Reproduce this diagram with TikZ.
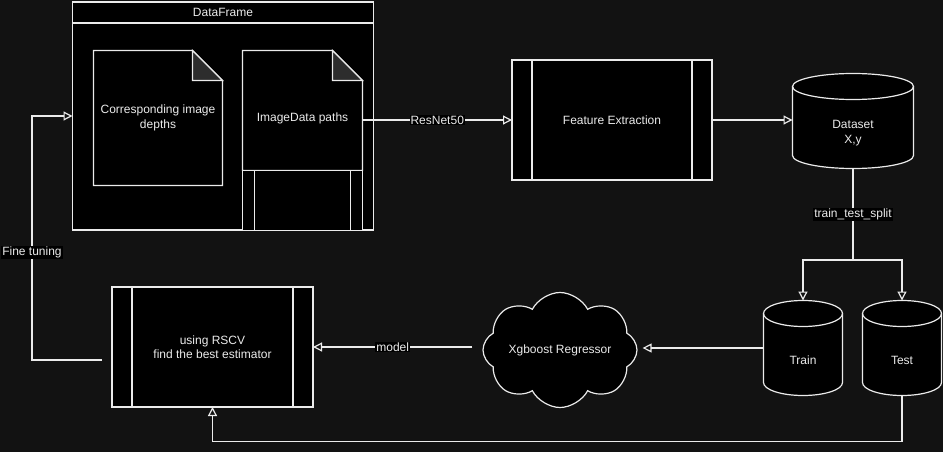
\documentclass[tikz,border=0pt]{standalone}
\usepackage{fontspec}
\setmainfont{Liberation Sans}
\usetikzlibrary{arrows.meta,shapes.symbols}
\definecolor{bg}{RGB}{18,18,18}
\definecolor{ln}{RGB}{235,235,235}
\definecolor{fold}{RGB}{45,45,45}
\newcommand\mycyl[5]{%
 \pgfmathsetmacro\cxa{(#1+#3)/2}\pgfmathsetmacro\rxa{(#3-#1)/2}%
 \pgfmathsetmacro\ka{0.5523*\rxa}\pgfmathsetmacro\kb{0.5523*#5}%
 \pgfmathsetmacro\yt{#2+#5}\pgfmathsetmacro\yb{#4-#5}\pgfmathsetmacro\yc{#2+2*#5}%
 \path[shp] (#1,\yt) -- (#1,\yb) .. controls (#1,\yb+\kb) and (\cxa-\ka,#4) .. (\cxa,#4)
   .. controls (\cxa+\ka,#4) and (#3,\yb+\kb) .. (#3,\yb) -- (#3,\yt)
   .. controls (#3,\yt-\kb) and (\cxa+\ka,#2) .. (\cxa,#2)
   .. controls (\cxa-\ka,#2) and (#1,\yt-\kb) .. (#1,\yt) -- cycle;
 \draw[edge] (#1,\yt) .. controls (#1,\yt+\kb) and (\cxa-\ka,\yc) .. (\cxa,\yc)
   .. controls (\cxa+\ka,\yc) and (#3,\yt+\kb) .. (#3,\yt);
}
\newcommand\mydoc[5]{% x1 y1 x2 y2 fold
 \path[shp] (#1,#2) -- (#3-#5,#2) -- (#3,#2+#5) -- (#3,#4) -- (#1,#4) -- cycle;
 \path[edge,fill=fold] (#3-#5,#2) -- (#3-#5,#2+#5) -- (#3,#2+#5) -- cycle;
}
\begin{document}
\begin{tikzpicture}[x=1pt,y=-1pt,
  every node/.style={font=\fontsize{12}{14.5}\selectfont, text=ln, align=center},
  shp/.style={draw=ln, fill=black, line width=1.2pt},
  edge/.style={draw=ln, line width=1.2pt},
  region/.style={minimum width=#1, inner sep=0pt, outer sep=0pt},
  arr/.style={draw=ln, line width=1.2pt, -{Triangle[open,length=9pt,width=9pt]}},
  lbl/.style={fill=black, inner sep=1pt}]
\fill[bg] (0,0) rectangle (943,452);
\useasboundingbox (0,0) rectangle (943,452);

% DataFrame container
\node[shp, minimum width=301, minimum height=228, anchor=north west, inner sep=0pt, outer sep=0pt] (df) at (72.5,2) {};
\node[shp, minimum width=301, minimum height=21, anchor=north west, inner sep=0pt, outer sep=0pt] (dfh) at (72.5,2) {DataFrame};

% documents
\mydoc{93.5}{50.5}{222.5}{185.5}{30}
\node[region=129, minimum height=135] (doc1) at (158,118) {};
\node at (158,118) {Corresponding image\\depths};
\mydoc{242.5}{50.5}{362.5}{170.5}{30}
\node[region=120, minimum height=120] (doc2) at (302.5,110.5) {};
\node at (302.5,118) {ImageData paths};
\node[shp, minimum width=120, minimum height=60, inner sep=0pt, outer sep=0pt] (under) at (302.5,200.5) {};
\draw[edge] ([xshift=12pt]under.north west) -- ([xshift=12pt]under.south west);
\draw[edge] ([xshift=-12pt]under.north east) -- ([xshift=-12pt]under.south east);

% Feature extraction
\node[shp, minimum width=200, minimum height=120, outer sep=0pt] (fe) at (612,120) {Feature Extraction};
\draw[edge] ([xshift=20pt]fe.north west) -- ([xshift=20pt]fe.south west);
\draw[edge] ([xshift=-20pt]fe.north east) -- ([xshift=-20pt]fe.south east);

% Dataset cylinder
\mycyl{792.5}{73.5}{913.5}{168.5}{13}
\node[region=121, minimum height=95] (ds) at (853,121) {};
\node at (853,133) {Dataset\\X,y};

% Train / Test
\mycyl{763.5}{300.5}{842.5}{395.5}{13}
\node[region=79, minimum height=95] (tr) at (803,348) {};
\node at (803,360) {Train};
\mycyl{862.5}{300.5}{941.5}{395.5}{13}
\node[region=79, minimum height=95] (te) at (902,348) {};
\node at (902,360) {Test};

% Cloud
\node[cloud, shp, cloud puffs=8, cloud puff arc=125, cloud ignores aspect, minimum width=154, minimum height=115, inner sep=0pt] (cl) at (560,350) {Xgboost Regressor};

% RSCV
\node[shp, minimum width=201, minimum height=120, outer sep=0pt] (rs) at (212.5,347) {using RSCV\\find the best estimator};
\draw[edge] ([xshift=20pt]rs.north west) -- ([xshift=20pt]rs.south west);
\draw[edge] ([xshift=-20pt]rs.north east) -- ([xshift=-20pt]rs.south east);

% connectors
\draw[arr] (doc2.east |- fe.west) -- node[lbl]{ResNet50} (fe.west);
\draw[arr] (fe.east) -- (ds.west |- fe.east);
\coordinate (sp) at (853,260);
\draw[edge] (ds.south) -- node[lbl]{train\_test\_split} (sp);
\draw[arr] (sp) -| (tr.north);
\draw[arr] (sp) -| (te.north);
\draw[arr, shorten >=5pt] (tr.west) -- (cl.east |- tr.west);
\coordinate (clw) at ([xshift=-10pt]cl.west);
\draw[arr] (clw |- rs.east) -- node[lbl]{model} (rs.east);
\draw[arr] ([xshift=-10pt,yshift=-13pt]rs.west) -- ++(-70,0) |- node[pos=0.22,lbl]{Fine tuning} (df.west);
\draw[arr] (te.south) -- ++(0,46) -| (rs.south);
\end{tikzpicture}
\end{document}
